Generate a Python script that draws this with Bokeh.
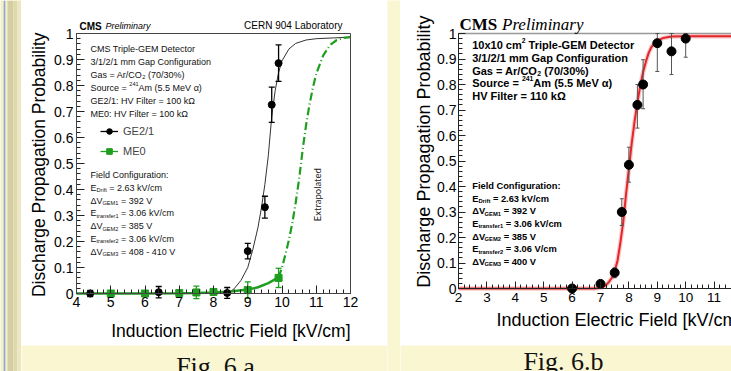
import math
import numpy as np
from bokeh.plotting import figure
from bokeh.models import (Label, Legend, LegendItem, SingleIntervalTicker, LinearAxis,
                          CustomJSTickFormatter, Range1d, BoxAnnotation)
from bokeh.layouts import row, column
from bokeh.embed import file_html
from bokeh.resources import INLINE

# ------------------------------------------------------------------ data
# Fig. 6.a  (GE2/1 and ME0)
ge21_field = [4.4, 6.4, 8.4, 9.0, 9.5, 9.7, 9.9]
ge21_prob = [0.0, 0.005, 0.002, 0.163, 0.332, 0.726, 0.886]
ge21_err = [0.012, 0.022, 0.021, 0.030, 0.042, 0.068, 0.070]

me0_field = [5.0, 6.0, 7.0, 7.5, 8.0, 9.0, 9.9]
me0_prob = [0.0, 0.0, 0.002, 0.004, 0.006, 0.013, 0.060]
me0_err = [0.004, 0.004, 0.010, 0.024, 0.012, 0.032, 0.037]

ge21_fit_x = [4.0, 8.3, 8.5, 8.6, 8.8, 9.0, 9.15, 9.3, 9.4, 9.5, 9.6, 9.7, 9.8,
              9.9, 10.0, 10.2, 10.4, 10.7, 11.0, 11.5, 12.0]
ge21_fit_y = [0.0, 0.0, 0.008, 0.018, 0.05, 0.10, 0.17, 0.255, 0.33, 0.42, 0.53,
              0.68, 0.78, 0.85, 0.895, 0.94, 0.962, 0.975, 0.98, 0.983, 0.986]

me0_fit_x = [4.0, 5.0, 6.0, 7.0, 7.5, 8.0, 8.5, 9.0, 9.3, 9.6, 9.9]
me0_fit_y = [0.0, 0.0, 0.0, 0.001, 0.002, 0.004, 0.008, 0.015, 0.024, 0.040, 0.062]

me0_extrap_x = [9.9, 10.0, 10.1, 10.2, 10.3, 10.4, 10.5, 10.6, 10.7, 10.8, 10.9,
                11.0, 11.2, 11.4, 11.6, 11.8, 12.0]
me0_extrap_y = [0.062, 0.10, 0.15, 0.205, 0.27, 0.35, 0.44, 0.55, 0.645, 0.725,
                0.79, 0.845, 0.915, 0.955, 0.975, 0.983, 0.986]

# Fig. 6.b  (10x10 cm2 detector)
b_field = [6.0, 7.0, 7.5, 7.75, 8.0, 8.3, 8.5, 9.0, 9.5, 10.0]
b_prob = [0.0, 0.018, 0.062, 0.30, 0.485, 0.72, 0.80, 0.962, 0.93, 0.98]
b_low = [0.0, 0.008, 0.042, 0.247, 0.417, 0.629, 0.705, 0.851, 0.839, 0.907]
b_high = [0.008, 0.028, 0.081, 0.352, 0.554, 0.80, 0.897, 1.0, 1.0, 1.0]

b_fit_x = [2.0, 6.8, 7.0, 7.1, 7.2, 7.3, 7.4, 7.5, 7.6, 7.7, 7.8, 7.9, 8.0, 8.1,
           8.2, 8.3, 8.4, 8.5, 8.6, 8.7, 8.8, 9.0, 9.2, 9.5, 10.0, 12.0]
b_fit_y = [0.0, 0.0, 0.003, 0.006, 0.014, 0.026, 0.042, 0.068, 0.11, 0.18, 0.26,
           0.37, 0.47, 0.57, 0.655, 0.73, 0.795, 0.848, 0.89, 0.925, 0.948, 0.972,
           0.982, 0.988, 0.989, 0.989]

# axis extents
A_X = (4, 12)
B_X = (2, 12)
Y_RANGE = (0, 1)

x_label = "Induction Electric Field [kV/cm]"
y_label = "Discharge Propagation Probability"

a_info = [
    [("CMS Triple-GEM Detector", "n")],
    [("3/1/2/1 mm Gap Configuration", "n")],
    [("Gas = Ar/CO", "n"), ("2", "sub"), (" (70/30%)", "n")],
    [("Source = ", "n"), ("241", "sup"), ("Am (5.5 MeV α)", "n")],
    [("GE2/1: HV Filter = 100 kΩ", "n")],
    [("ME0: HV Filter = 100 kΩ", "n")],
]
a_field = [
    [("Field Configuration:", "n")],
    [("E", "n"), ("Drift", "sub"), (" = 2.63 kV/cm", "n")],
    [("ΔV", "n"), ("GEM1", "sub"), (" = 392 V", "n")],
    [("E", "n"), ("transfer1", "sub"), (" = 3.06 kV/cm", "n")],
    [("ΔV", "n"), ("GEM2", "sub"), (" = 385 V", "n")],
    [("E", "n"), ("transfer2", "sub"), (" = 3.06 kV/cm", "n")],
    [("ΔV", "n"), ("GEM3", "sub"), (" = 408 - 410 V", "n")],
]
b_info = [
    [("10x10 cm", "n"), ("2", "sup"), (" Triple-GEM Detector", "n")],
    [("3/1/2/1 mm Gap Configuration", "n")],
    [("Gas = Ar/CO", "n"), ("2", "sub"), (" (70/30%)", "n")],
    [("Source = ", "n"), ("241", "sup"), ("Am (5.5 MeV α)", "n")],
    [("HV Filter = 110 kΩ", "n")],
]
b_fieldcfg = [
    [("Field Configuration:", "n")],
    [("E", "n"), ("Drift", "sub"), (" = 2.63 kV/cm", "n")],
    [("ΔV", "n"), ("GEM1", "sub"), (" = 392 V", "n")],
    [("E", "n"), ("transfer1", "sub"), (" = 3.06 kV/cm", "n")],
    [("ΔV", "n"), ("GEM2", "sub"), (" = 385 V", "n")],
    [("E", "n"), ("transfer2", "sub"), (" = 3.06 V/cm", "n")],
    [("ΔV", "n"), ("GEM3", "sub"), (" = 400 V", "n")],
]

# ------------------------------------------------------------------ style
FONT = "Liberation Sans"
SERIF = "Liberation Serif"
CREAM = "#FAF6D2"
GREEN = "#1E9E1E"
RED = "#E3262B"

UP = "ABCDEFGHIJKLMNOPQRSTUVWXYZ"
LO = "abcdefghijklmnopqrstuvwxyz"
W_REG = dict(zip(UP, [667, 667, 722, 722, 667, 611, 778, 722, 278, 500, 667, 556, 833,
                      722, 778, 667, 778, 722, 667, 611, 722, 667, 944, 667, 667, 611]))
W_REG.update(zip(LO, [556, 556, 500, 556, 556, 278, 556, 556, 222, 222, 500, 222, 833,
                      556, 556, 556, 556, 333, 500, 278, 556, 500, 722, 500, 500, 500]))
W_BLD = dict(zip(UP, [722, 722, 722, 722, 667, 611, 778, 722, 278, 556, 722, 611, 833,
                      722, 778, 667, 778, 722, 667, 611, 722, 667, 944, 667, 667, 611]))
W_BLD.update(zip(LO, [556, 611, 556, 611, 556, 333, 611, 611, 278, 278, 556, 278, 889,
                      611, 611, 611, 611, 389, 556, 333, 611, 556, 778, 556, 556, 500]))
PUNCT = {" ": 278, "%": 889, "(": 333, ")": 333, "-": 333, ".": 278, "/": 278,
         ":": 278, "=": 584, "[": 278, "]": 278, "Δ": 668, "Ω": 768, "α": 578}
for d in (W_REG, W_BLD):
    d.update(PUNCT)
    d.update({c: 556 for c in "0123456789"})
W_BLD[":"] = 333

ANCHOR = {}


def tw(s, size, bold=False):
    t = W_BLD if bold else W_REG
    return sum(t.get(c, 556) for c in s) * size / 1000.0


def lab(p, px, py, text, size, font=FONT, style="normal", align="left",
        baseline="alphabetic", angle=0.0, color="black"):
    """text placed px right / py down from the top-left corner of the data box"""
    if angle == 0:
        py -= 0.2 * size
    p.add_layout(Label(x=ANCHOR[p.id], y=Y_RANGE[1], x_offset=px, y_offset=-py,
                       text=text, text_font=font, text_font_size=f"{size}px",
                       text_font_style=style, text_align=align,
                       text_baseline=baseline, angle=angle, text_color=color))


def rich(p, px, py, parts, size, bold=False, color="black"):
    x = px
    for txt, kind in parts:
        s = size if kind == "n" else round(size * 0.62, 1)
        dy = 0 if kind == "n" else (size * 0.25 if kind == "sub" else -size * 0.42)
        dy += 0.2 * (s - size)
        stripped = txt.lstrip(" ")
        x += tw(txt[:len(txt) - len(stripped)], s, bold)
        lab(p, x, py + dy, stripped, s, style="bold" if bold else "normal", color=color)
        x += tw(stripped, s, bold)


def plain(w, h, color):
    f = figure(width=w, height=h, x_range=Range1d(0, w), y_range=Range1d(0, h),
               output_backend="svg", toolbar_location=None, title=None,
               x_axis_location=None, y_axis_location=None,
               min_border=0, min_border_left=0, min_border_right=0,
               min_border_top=0, min_border_bottom=0)
    f.grid.visible = False
    f.outline_line_color = None
    f.background_fill_color = color
    f.border_fill_color = color
    return f


def panel(w, h, xr, left, right_px, top, bottom_px):
    """figure whose frame is the whole canvas; the data box xr x Y_RANGE sits at
    pixels [left, right_px] x [top, bottom_px]"""
    xs = (xr[1] - xr[0]) / (right_px - left)
    ys = (Y_RANGE[1] - Y_RANGE[0]) / (bottom_px - top)
    p = figure(width=w, height=h,
               x_range=Range1d(xr[0] - left * xs, xr[1] + (w - right_px) * xs),
               y_range=Range1d(Y_RANGE[0] - (h - bottom_px) * ys, Y_RANGE[1] + top * ys),
               output_backend="svg", toolbar_location=None, title=None,
               x_axis_location=None, y_axis_location=None,
               min_border=0, min_border_left=0, min_border_right=0,
               min_border_top=0, min_border_bottom=0)
    ANCHOR[p.id] = xr[0]
    p.grid.visible = False
    p.outline_line_color = None
    p.background_fill_color = "white"
    p.border_fill_color = "white"
    return p


def axes(p, xr, tick_in, minor_in, size_x, size_y, standoff_x, standoff_y, color="#222"):
    xa = LinearAxis(fixed_location=Y_RANGE[0], bounds=xr,
                    ticker=SingleIntervalTicker(interval=1, num_minor_ticks=5))
    ya = LinearAxis(fixed_location=xr[0], bounds=Y_RANGE,
                    ticker=SingleIntervalTicker(interval=0.1, num_minor_ticks=5),
                    formatter=CustomJSTickFormatter(
                        code="return (Math.round(tick*10)/10).toString();"))
    for ax, sz, so in ((xa, size_x, standoff_x), (ya, size_y, standoff_y)):
        ax.major_tick_in = tick_in
        ax.major_tick_out = 0
        ax.minor_tick_in = minor_in
        ax.minor_tick_out = 0
        ax.major_label_text_font = FONT
        ax.major_label_text_font_size = f"{sz}px"
        ax.major_label_text_color = "black"
        ax.major_label_standoff = so
        ax.axis_line_color = color
        ax.major_tick_line_color = color
        ax.minor_tick_line_color = color
    p.add_layout(xa, "below")
    p.add_layout(ya, "left")


# ------------------------------------------------------------------ Fig. 6.a
pa = panel(366, 345, A_X, 55, 329, 33, 293)
axes(pa, A_X, 8, 4, 14, 14, 3, 3)
pa.add_layout(BoxAnnotation(left=A_X[0], right=A_X[1], bottom=Y_RANGE[0], top=Y_RANGE[1],
                            fill_alpha=0, line_color="#444", line_width=1, line_alpha=1))

ge_x = np.array(ge21_field)
ge_y = np.array(ge21_prob)
ge_e = np.array(ge21_err)
me_x = np.array(me0_field)
me_y = np.array(me0_prob)
me_e = np.array(me0_err)

pa.line(ge21_fit_x, ge21_fit_y, line_color="#333", line_width=1)
pa.line(me0_extrap_x, me0_extrap_y, line_color=GREEN, line_width=2.2, line_dash="8 3 1 3")
pa.line(me0_fit_x, me0_fit_y, line_color=GREEN, line_width=2.5)

ge_seg = pa.segment(ge_x, ge_y - ge_e, ge_x, ge_y + ge_e, line_color="black", line_width=1.3)
pa.scatter(ge_x, ge_y - ge_e, marker="dash", size=6, line_color="black", line_width=1.3)
pa.scatter(ge_x, ge_y + ge_e, marker="dash", size=6, line_color="black", line_width=1.3)
ge_pts = pa.scatter(ge_x, ge_y, marker="circle", size=7, color="black")

me_seg = pa.segment(me_x, me_y - me_e, me_x, me_y + me_e, line_color=GREEN, line_width=1.3)
pa.scatter(me_x, me_y - me_e, marker="dash", size=6, line_color=GREEN, line_width=1.3)
pa.scatter(me_x, me_y + me_e, marker="dash", size=6, line_color=GREEN, line_width=1.3)
me_pts = pa.scatter(me_x, me_y, marker="square", size=7, color=GREEN)

leg = Legend(items=[LegendItem(label="GE2/1", renderers=[ge_seg, ge_pts]),
                    LegendItem(label="ME0", renderers=[me_seg, me_pts])],
             location=(79, 187), orientation="vertical")
leg.background_fill_alpha = 0
leg.border_line_color = None
leg.label_text_font = FONT
leg.label_text_font_size = "11px"
leg.glyph_width = 18
leg.glyph_height = 14
leg.label_height = 14
leg.label_standoff = 5
leg.spacing = 6
leg.padding = 0
leg.margin = 0
pa.add_layout(leg)

# titles
lab(pa, 3, -5.5, "CMS", 10, style="bold")
lab(pa, 29, -5.5, "Preliminary", 9, style="italic")
lab(pa, 266, -6, "CERN 904 Laboratory", 10, align="right")

# info text
for i, parts in enumerate(a_info):
    rich(pa, 14, 17 + 13.1 * i, parts, 9, color="#111")
for i, parts in enumerate(a_field):
    rich(pa, 14, 143 + 12.9 * i, parts, 9, color="#111")

pa.add_layout(Label(x=11.03, y=0.38, text="Extrapolated", angle=math.pi / 2,
                    text_align="center", text_baseline="middle", text_font="Lato",
                    text_font_size="9.5px", text_color="#222"))

# axis titles (right aligned, ROOT style)
lab(pa, 274, 301, x_label, 17.5, align="right")
lab(pa, -38, -1, y_label, 17.5, align="right", baseline="middle", angle=math.pi / 2)

# ------------------------------------------------------------------ Fig. 6.b
pb = panel(331, 345, B_X, 58, 58 + 284, 33, 288)
axes(pb, B_X, 7, 4, 13.5, 14, 4, 2)
pb.line(list(B_X), [Y_RANGE[1], Y_RANGE[1]], line_color="#999", line_width=1.5)

bx = np.array(b_field)
pb.line(b_fit_x, b_fit_y, line_color="#F3A5A5", line_width=4.5, line_alpha=0.6)
pb.line(b_fit_x, b_fit_y, line_color=RED, line_width=2.0)
pb.segment(bx, b_low, bx, b_high, line_color="#555", line_width=1)
pb.scatter(bx, b_low, marker="dash", size=4, line_color="#555", line_width=1)
pb.scatter(bx, b_high, marker="dash", size=4, line_color="#555", line_width=1)
pb.scatter(bx, b_prob, marker="circle", size=9, color="black")

lab(pb, 1, -5.3, "CMS", 17, font=SERIF, style="bold")
lab(pb, 43.5, -5.3, "Preliminary", 17, font=SERIF, style="italic")

for i, parts in enumerate(b_info):
    rich(pb, 13.7, 13.7 + 12.8 * i, parts, 11, bold=True)
for i, parts in enumerate(b_fieldcfg):
    rich(pb, 13.7, 154.4 + 12.66 * i, parts, 9.3, bold=True)

lab(pb, 284, 290, x_label, 18, align="right")
lab(pb, -35, -18, y_label, 18, align="right", baseline="middle", angle=math.pi / 2)

# ------------------------------------------------------------------ page pieces
strip = plain(21, 371, CREAM)
strip_colors = ["#F3EFCB", "#D5CEA2", "#E0D9B0", "#ECE7C2"]
strip_edges = [0, 7, 13, 17, 21]
strip.quad(left=strip_edges[:-1], right=strip_edges[1:], bottom=0, top=371,
           color=strip_colors, line_color=None)
strip.line([4, 4], [0, 371], line_color="#8EA6D6", line_width=1.6)

gap = plain(13, 371, CREAM)

capa = plain(366, 26, CREAM)
capa.add_layout(Label(x=194, y=5.5, text="Fig. 6.a", text_font=SERIF,
                      text_font_size="26px", text_align="center",
                      text_baseline="alphabetic", text_color="#111"))
capb = plain(331, 26, CREAM)
capb.add_layout(Label(x=163, y=10.0, text="Fig. 6.b", text_font=SERIF,
                      text_font_size="26px", text_align="center",
                      text_baseline="alphabetic", text_color="#111"))

layout = row(strip, column(pa, capa), gap, column(pb, capb))

open("out.html", "w").write(file_html(layout, INLINE))
